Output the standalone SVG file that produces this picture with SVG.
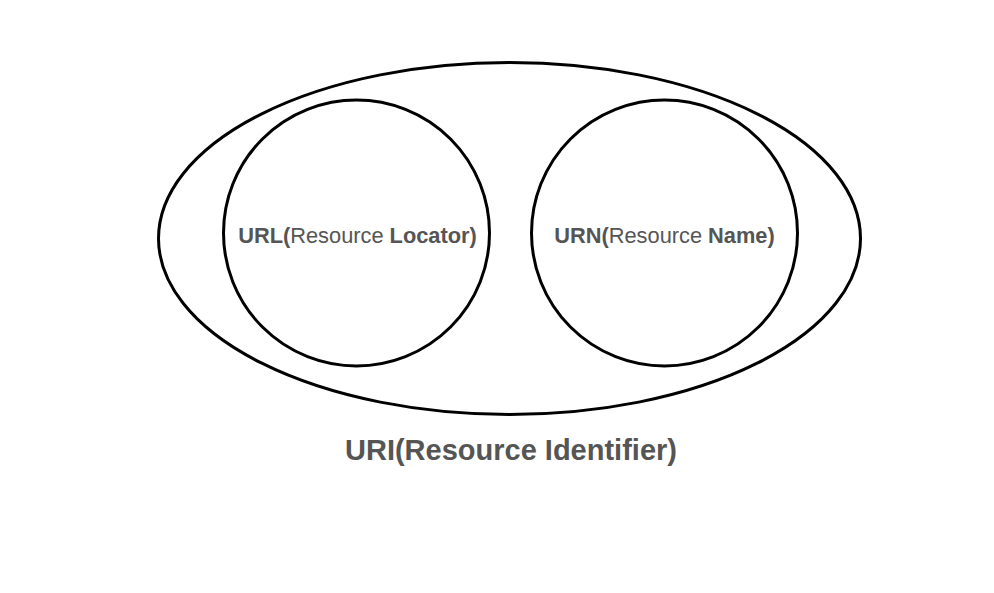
<svg xmlns="http://www.w3.org/2000/svg" width="994" height="593" viewBox="0 0 994 593">
<style>
.shape{fill:none;stroke:#000;stroke-width:3}
.lbl{font-family:"Liberation Sans",Arial,sans-serif;fill:#555;text-anchor:middle}
.b{font-weight:bold}
</style>
<rect width="994" height="593" fill="#fff"/>
<g id="uri">
<ellipse class="shape" cx="509.5" cy="238.5" rx="351" ry="176"/>
<text class="lbl b" x="511" y="460" font-size="29">URI(Resource Identifier)</text>
</g>
<g id="url">
<circle class="shape" cx="356.5" cy="233" r="133"/>
<text class="lbl" x="357.5" y="243" font-size="21.8"><tspan class="b">URL(</tspan>Resource <tspan class="b">Locator)</tspan></text>
</g>
<g id="urn">
<circle class="shape" cx="664.5" cy="233" r="133"/>
<text class="lbl" x="664.5" y="243" font-size="21.8"><tspan class="b">URN(</tspan>Resource <tspan class="b">Name)</tspan></text>
</g>
<g id="connectors"/>
</svg>
